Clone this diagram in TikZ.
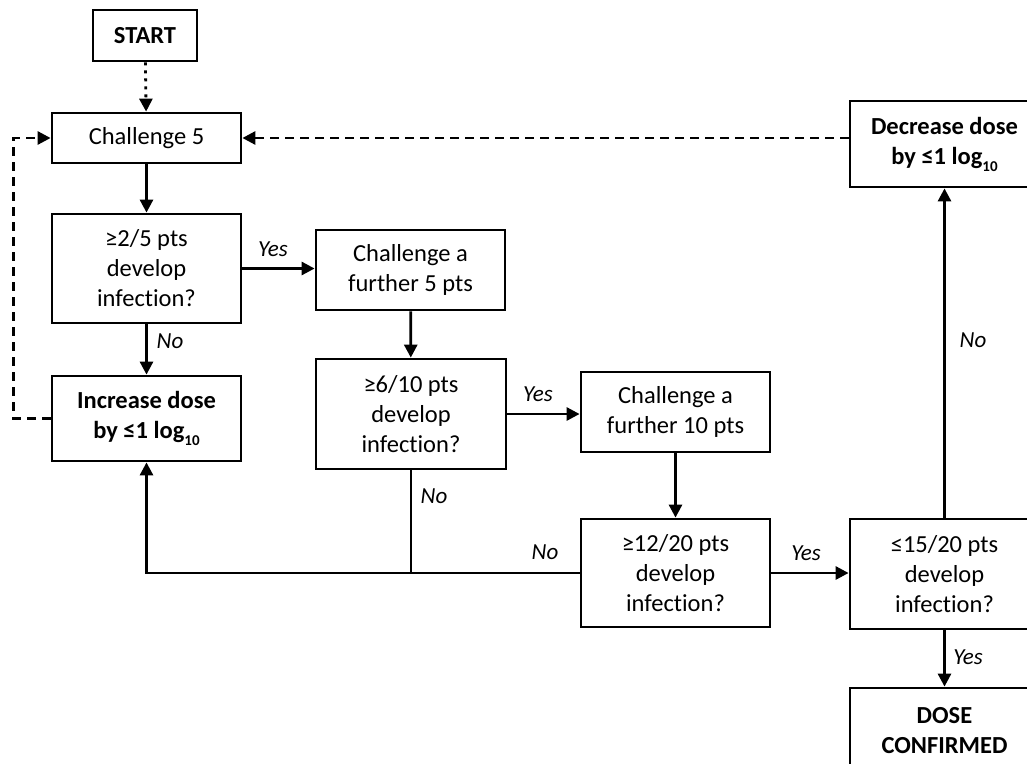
\documentclass[tikz,border=0pt]{standalone}
\usepackage{fontspec}
\setmainfont{Carlito}[Ligatures=NoCommon]
\usetikzlibrary{arrows.meta}
\newcommand{\logten}{log\raisebox{-7pt}{\fontsize{15}{15}\selectfont 10}}
\tikzset{
  box/.style={draw, line width=2.8pt, align=center, inner sep=0pt, font=\fontsize{24.5}{30}\selectfont},
  boldbox/.style={box, font=\fontsize{24.5}{30}\selectfont\bfseries},
  conn/.style={line width=2.8pt},
  arr/.style={conn, -{Triangle[length=13pt,width=13pt]}},
  dasharr/.style={arr, dash pattern=on 9pt off 6pt},
  dotarr/.style={arr, dash pattern=on 3pt off 5pt},
  lbl/.style={font=\fontsize{23}{28}\selectfont\itshape, inner sep=0pt}
}
\begin{document}
\begin{tikzpicture}[x=1pt,y=-1pt]
\useasboundingbox (0,0) rectangle (1027,763);
\clip (0,0) rectangle (1027,763);
\fill[white] (0,0) rectangle (1027,763);
% nodes
\node[boldbox, minimum width=104pt, minimum height=51pt] (start) at (145,35.5) {START};
\node[box, minimum width=189pt, minimum height=50pt] (c5) at (146.5,138) {Challenge 5};
\node[box, minimum width=189pt, minimum height=109pt] (q1) at (146.5,268.5) {≥2/5 pts\\develop\\infection?};
\node[boldbox, minimum width=189pt, minimum height=85pt] (inc) at (146.5,418.5) {Increase dose\\by ≤1 \logten};
\node[box, minimum width=189pt, minimum height=80pt] (c5b) at (410.5,270) {Challenge a\\further 5 pts};
\node[box, minimum width=190pt, minimum height=110pt] (q2) at (411,414) {≥6/10 pts\\develop\\infection?};
\node[box, minimum width=189pt, minimum height=80pt] (c10) at (675.5,412) {Challenge a\\further 10 pts};
\node[box, minimum width=189pt, minimum height=108pt] (q3) at (675.5,573) {≥12/20 pts\\develop\\infection?};
\node[box, minimum width=189pt, minimum height=110pt] (q4) at (944.5,574) {≤15/20 pts\\develop\\infection?};
\node[boldbox, minimum width=189pt, minimum height=86pt] (dec) at (944.5,144) {Decrease dose\\by ≤1 \logten};
\node[boldbox, minimum width=189pt, minimum height=85pt] (done) at (944.5,730.5) {DOSE\\CONFIRMED};
% connectors
\draw[dotarr] (start) -- (c5);
\draw[arr] (c5) -- (q1);
\draw[arr] (q1) -- (inc);
\draw[dasharr] (inc.west) -- ++(-37,0) |- (c5.west);
\draw[arr] (q1.east) -- (c5b.west |- q1.east);
\draw[arr] (c5b) -- (q2);
\draw[arr] (q2.east) -- (c10.west |- q2.east);
\draw[arr] (c10) -- (q3);
\draw[conn] (q2.south) -- (q2.south |- q3.west);
\draw[arr] (q3.west) -| (inc.south);
\draw[arr] (q3.east) -- (q4.west |- q3.east);
\draw[arr] (q4) -- (dec);
\draw[dasharr] (dec.west |- c5.east) -- (c5.east);
\draw[arr] (q4) -- (done);
% labels
\node[lbl] (l1) at (273,249) {Yes};
\node[lbl] (l2) at (170,341) {No};
\node[lbl] (l3) at (538,394) {Yes};
\node[lbl] (l4) at (434,496) {No};
\node[lbl] (l5) at (545,552) {No};
\node[lbl] (l6) at (806,553) {Yes};
\node[lbl] (l7) at (973,340) {No};
\node[lbl] (l8) at (968,657) {Yes};
\end{tikzpicture}
\end{document}
